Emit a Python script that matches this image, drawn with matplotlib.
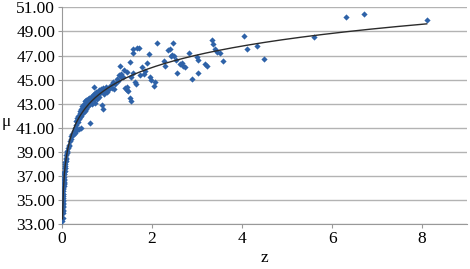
import numpy as np
import matplotlib
matplotlib.use('Agg')
import matplotlib.pyplot as plt
from matplotlib.ticker import FormatStrFormatter

# redshift z and distance modulus mu
z_low = [0.010, 0.011, 0.013, 0.014, 0.015, 0.016, 0.017, 0.018, 0.019, 0.020,
         0.021, 0.022, 0.024, 0.025, 0.026, 0.028, 0.030, 0.031, 0.033, 0.035,
         0.036, 0.038, 0.040, 0.042, 0.045, 0.048, 0.050, 0.053, 0.056, 0.060,
         0.063, 0.066, 0.070, 0.075, 0.080, 0.085, 0.090, 0.095,
         0.10, 0.11, 0.12, 0.13, 0.15, 0.16, 0.18, 0.20, 0.21, 0.23, 0.24,
         0.26, 0.28, 0.29]
mu_low = [33.30, 33.55, 33.90, 34.10, 34.20, 34.45, 34.55, 34.70, 34.80, 34.95,
          35.05, 35.20, 35.35, 35.50, 35.55, 35.80, 35.90, 36.05, 36.15, 36.35,
          36.40, 36.55, 36.65, 36.80, 36.95, 37.15, 37.20, 37.35, 37.45, 37.65,
          37.70, 37.85, 38.00, 38.15, 38.25, 38.45, 38.50, 38.75,
          38.90, 39.10, 39.00, 39.30, 39.60, 39.50, 39.90, 40.10, 40.30, 40.50, 40.40,
          40.70, 40.60, 41.00]

z_band = [0.30, 0.31, 0.32, 0.33, 0.34, 0.35, 0.36, 0.37, 0.38, 0.39,
          0.40, 0.41, 0.42, 0.42, 0.43, 0.44, 0.45, 0.46, 0.47, 0.48,
          0.49, 0.50, 0.51, 0.52, 0.53, 0.54, 0.55, 0.56, 0.57, 0.58,
          0.60, 0.61, 0.62, 0.63, 0.64, 0.66, 0.67, 0.68, 0.70, 0.70,
          0.72, 0.73, 0.75, 0.76, 0.78, 0.80, 0.81, 0.83, 0.85, 0.86,
          0.88, 0.90, 0.90, 0.92, 0.94, 0.96, 0.98, 1.00, 1.02, 1.05,
          1.08, 1.10, 1.14, 1.16, 1.18, 1.21, 1.24, 1.27, 1.28, 1.30,
          1.32, 1.37]
mu_band = [41.20, 41.60, 41.00, 40.80, 41.80, 41.50, 42.00, 41.70, 40.90, 42.20,
           41.90, 42.40, 42.00, 41.00, 42.60, 42.30, 42.80, 42.50, 42.20, 43.00,
           42.70, 42.40, 43.20, 42.90, 42.60, 43.30, 43.00, 42.70, 43.40, 43.10,
           42.90, 43.50, 41.40, 43.20, 43.60, 43.30, 43.00, 43.70, 44.40, 43.40,
           43.80, 43.10, 43.60, 44.00, 43.40, 43.80, 44.10, 43.60, 43.90, 44.20,
           42.90, 42.60, 44.00, 44.30, 43.80, 44.10, 44.40, 44.00, 44.30, 44.20,
           44.55, 44.30, 44.80, 44.20, 44.60, 45.05, 44.90, 45.40, 46.10, 45.20,
           45.50, 45.80]

z_mid = [1.35, 1.40, 1.44, 1.45, 1.47, 1.45, 1.50, 1.51, 1.54, 1.53,
         1.58, 1.57, 1.58, 1.66, 1.70, 1.62, 1.64, 1.73, 1.77, 1.81,
         1.84, 1.88, 1.93, 1.95, 1.97, 2.04, 2.06, 2.12, 2.27, 2.28,
         2.35, 2.40, 2.42, 2.45, 2.46, 2.49, 2.53, 2.56, 2.62, 2.66,
         2.69, 2.73, 2.81, 2.88, 2.99, 3.03, 3.01, 3.18, 3.22, 3.33,
         3.36, 3.40, 3.44, 3.51, 3.57,
         4.04, 4.10, 4.34, 4.49, 5.60, 6.30, 6.70, 8.10]
mu_mid = [45.24, 44.28, 44.40, 44.10, 44.08, 45.65, 46.50, 43.45, 43.25, 45.24,
          45.52, 47.50, 47.23, 47.59, 47.60, 44.82, 44.60, 45.38, 46.07, 45.50,
          45.70, 46.35, 47.12, 45.24, 44.98, 44.50, 44.80, 48.00, 46.57, 46.10,
          47.45, 47.50, 47.00, 47.07, 48.06, 46.95, 46.62, 45.57, 46.30, 46.35,
          46.10, 46.07, 47.18, 45.02, 46.88, 46.60, 45.52, 46.30, 46.10, 48.28,
          47.95, 47.50, 47.30, 47.20, 46.54,
          48.64, 47.54, 47.78, 46.73, 48.56, 50.21, 50.44, 49.94]

z = np.array(z_low + z_band + z_mid)
mu = np.array(mu_low + mu_band + mu_mid)

# trendline: quadratic in ln(z), fitted to the points
coef = np.polyfit(np.log(z), mu, 2)
zz = np.linspace(z.min(), z.max(), 400)

plt.rcParams['font.family'] = ['Liberation Serif', 'DejaVu Serif']
fig = plt.figure(figsize=(4.7, 2.69), dpi=100)
ax = fig.add_axes([0.132, 0.166, 0.862, 0.807])

ax.grid(axis='y', color='#b3b3b3', lw=1)
ax.set_axisbelow(True)
ax.scatter(z, mu, marker='D', s=10, color='#2e62a8', lw=0, zorder=3)
ax.plot(zz, np.polyval(coef, np.log(zz)), color='#2b2b2b', lw=1, zorder=4)

ax.set_xlim(0, 9)
ax.set_ylim(33, 51)
ax.set_xticks([0, 2, 4, 6, 8])
ax.set_yticks(np.arange(33, 52, 2))
ax.yaxis.set_major_formatter(FormatStrFormatter('%.2f'))
ax.tick_params(labelsize=12.5, color='#999999', length=3, pad=2)

for s in ['top', 'right']:
    ax.spines[s].set_visible(False)
ax.spines['left'].set_color('#999999')
ax.spines['bottom'].set_color('#999999')

ax.set_xlabel('z', fontsize=12.5, labelpad=2)
ax.set_ylabel('μ', fontsize=12.5, rotation=0, ha='center', va='center')
ax.yaxis.set_label_coords(-0.138, 0.47)

fig.savefig('out.png', dpi=100)
plt.close(fig)
